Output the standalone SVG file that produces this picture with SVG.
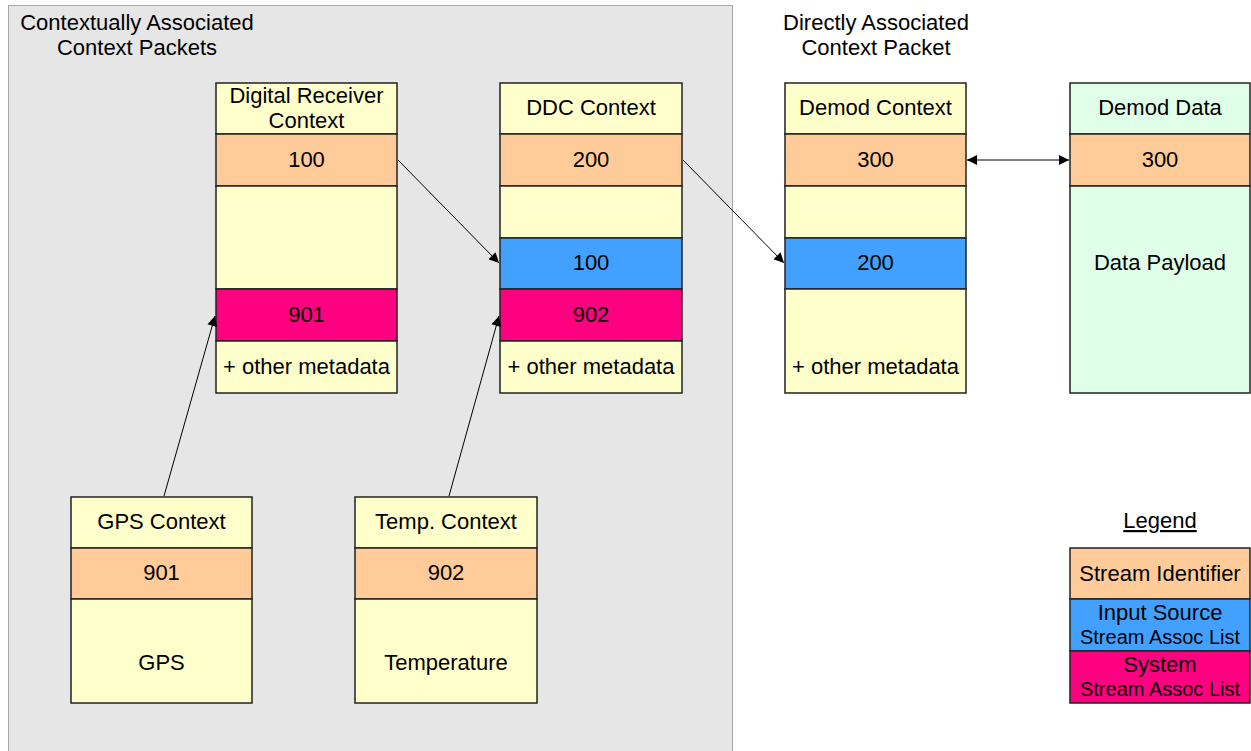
<svg xmlns="http://www.w3.org/2000/svg" width="1251" height="751" viewBox="0 0 1251 751">
  <style>
    text { font-family: "Liberation Sans", Arial, sans-serif; font-size: 22px; fill: #000; text-anchor: middle; }
    .small { font-size: 20px; }
    .cell { stroke: #222; stroke-width: 1.5; }
    .hdr { fill: #FFFFCC; }
    .sid { fill: #FFCC99; }
    .src { fill: #42A0FF; }
    .sys { fill: #FF0080; }
    .dat { fill: #E0FFE8; }
    .link { stroke: #000; stroke-width: 1; fill: none; }
  </style>
  <defs>
    <marker id="arrow" viewBox="0 0 10 10" refX="10" refY="5" markerWidth="15" markerHeight="10" markerUnits="userSpaceOnUse" orient="auto-start-reverse">
      <path d="M0,0 L10,5 L0,10 z" fill="#000"/>
    </marker>
  </defs>

  <rect width="1251" height="751" fill="#fff"/>

  <!-- contextual packet region -->
  <g id="context-region">
    <rect x="8.5" y="5.5" width="724" height="760" fill="#E6E6E6" stroke="#A8A8A8" stroke-width="1"/>
    <text x="137" y="30">Contextually Associated</text>
    <text x="137" y="55">Context Packets</text>
  </g>

  <g id="direct-label">
    <text x="876" y="30">Directly Associated</text>
    <text x="876" y="55">Context Packet</text>
  </g>

  <!-- Digital Receiver Context -->
  <g id="digital-receiver">
    <rect class="cell hdr" x="216" y="83" width="181" height="51"/>
    <rect class="cell sid" x="216" y="134" width="181" height="52"/>
    <rect class="cell hdr" x="216" y="186" width="181" height="103"/>
    <rect class="cell sys" x="216" y="289" width="181" height="52"/>
    <rect class="cell hdr" x="216" y="341" width="181" height="52"/>
    <text x="306.5" y="103">Digital Receiver</text>
    <text x="306.5" y="128">Context</text>
    <text x="306.5" y="167">100</text>
    <text x="306.5" y="322">901</text>
    <text x="306.5" y="374">+ other metadata</text>
  </g>

  <!-- DDC Context -->
  <g id="ddc">
    <rect class="cell hdr" x="500" y="83" width="182" height="51"/>
    <rect class="cell sid" x="500" y="134" width="182" height="52"/>
    <rect class="cell hdr" x="500" y="186" width="182" height="52"/>
    <rect class="cell src" x="500" y="238" width="182" height="51"/>
    <rect class="cell sys" x="500" y="289" width="182" height="52"/>
    <rect class="cell hdr" x="500" y="341" width="182" height="52"/>
    <text x="591" y="115">DDC Context</text>
    <text x="591" y="167">200</text>
    <text x="591" y="270">100</text>
    <text x="591" y="322">902</text>
    <text x="591" y="374">+ other metadata</text>
  </g>

  <!-- Demod Context -->
  <g id="demod-context">
    <rect class="cell hdr" x="785" y="83" width="181" height="51"/>
    <rect class="cell sid" x="785" y="134" width="181" height="52"/>
    <rect class="cell hdr" x="785" y="186" width="181" height="52"/>
    <rect class="cell src" x="785" y="238" width="181" height="51"/>
    <rect class="cell hdr" x="785" y="289" width="181" height="104"/>
    <text x="875.5" y="115">Demod Context</text>
    <text x="875.5" y="167">300</text>
    <text x="875.5" y="270">200</text>
    <text x="875.5" y="374">+ other metadata</text>
  </g>

  <!-- Demod Data -->
  <g id="demod-data">
    <rect class="cell dat" x="1070" y="83" width="180" height="51"/>
    <rect class="cell sid" x="1070" y="134" width="180" height="52"/>
    <rect class="cell dat" x="1070" y="186" width="180" height="207"/>
    <text x="1160" y="115">Demod Data</text>
    <text x="1160" y="167">300</text>
    <text x="1160" y="270">Data Payload</text>
  </g>

  <!-- GPS Context -->
  <g id="gps">
    <rect class="cell hdr" x="71" y="497" width="181" height="51"/>
    <rect class="cell sid" x="71" y="548" width="181" height="51"/>
    <rect class="cell hdr" x="71" y="599" width="181" height="104"/>
    <text x="161.5" y="529">GPS Context</text>
    <text x="161.5" y="580">901</text>
    <text x="161.5" y="670">GPS</text>
  </g>

  <!-- Temperature Context -->
  <g id="temp">
    <rect class="cell hdr" x="355" y="497" width="182" height="51"/>
    <rect class="cell sid" x="355" y="548" width="182" height="51"/>
    <rect class="cell hdr" x="355" y="599" width="182" height="104"/>
    <text x="446" y="529">Temp. Context</text>
    <text x="446" y="580">902</text>
    <text x="446" y="670">Temperature</text>
  </g>

  <!-- Legend -->
  <g id="legend">
    <text x="1160" y="528" text-decoration="underline">Legend</text>
    <rect class="cell sid" x="1070" y="548" width="180" height="51"/>
    <rect class="cell src" x="1070" y="599" width="180" height="52"/>
    <rect class="cell sys" x="1070" y="651" width="180" height="52"/>
    <text x="1160" y="581">Stream Identifier</text>
    <text x="1160" y="620">Input Source</text>
    <text class="small" x="1160" y="644">Stream Assoc List</text>
    <text x="1160" y="672">System</text>
    <text class="small" x="1160" y="696">Stream Assoc List</text>
  </g>

  <!-- connectors -->
  <g id="connectors">
    <line class="link" x1="398" y1="160" x2="499" y2="263" marker-end="url(#arrow)"/>
    <line class="link" x1="683" y1="160" x2="784" y2="263" marker-end="url(#arrow)"/>
    <line class="link" x1="164" y1="496" x2="215" y2="316" marker-end="url(#arrow)"/>
    <line class="link" x1="449" y1="496" x2="499" y2="316" marker-end="url(#arrow)"/>
    <line class="link" x1="967" y1="160" x2="1069" y2="160" marker-start="url(#arrow)" marker-end="url(#arrow)"/>
  </g>
</svg>
